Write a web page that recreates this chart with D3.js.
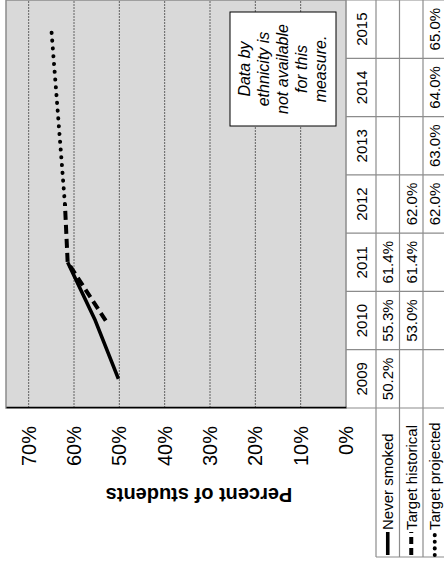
<!DOCTYPE html>
<html>
<head>
<meta charset="utf-8">
<script src="https://cdn.jsdelivr.net/npm/d3@7"></script>
<style>
  html, body { margin: 0; padding: 0; background: #fff; }
  svg { display: block; }
  text { font-family: Arial, "Liberation Sans", sans-serif; fill: #000; }
</style>
</head>
<body>
<script>
// ---- data ----
const years = ["2009", "2010", "2011", "2012", "2013", "2014", "2015"];
const neverSmoked = [50.2, 55.3, 61.4, null, null, null, null];
const targetHistorical = [null, 53.0, 61.4, 62.0, null, null, null];
const targetProjected = [null, null, null, 62.0, 63.0, 64.0, 65.0];
const seriesNames = ["Never smoked", "Target historical", "Target projected"];
const yTicks = [0, 10, 20, 30, 40, 50, 60, 70];
const noteLines = ["Data by", "ethnicity is", "not available", "for this", "measure."];

const W = 444, H = 562;          // page size
const CW = H, CH = W;            // chart is laid out landscape, then turned a quarter turn

const svg = d3.select("body").append("svg").attr("width", W).attr("height", H);
const g = svg.append("g").attr("transform", `translate(0,${H}) rotate(-90)`);

// plot frame (landscape coordinates)
const plotLeft = 154, plotRight = 562, plotTop = 6, plotBottom = 346;

const x = d3.scaleBand().domain(years).range([plotLeft, plotRight]).paddingInner(0).paddingOuter(0);
const y = d3.scaleLinear().domain([0, 75]).range([plotBottom, plotTop]);

// background
g.append("rect")
  .attr("x", plotLeft).attr("y", plotTop)
  .attr("width", plotRight - plotLeft).attr("height", plotBottom - plotTop)
  .attr("fill", "#d9d9d9").attr("stroke", "#8c8c8c").attr("stroke-width", 1.5);

// gridlines
g.append("g").selectAll("line")
  .data(yTicks.filter(d => d > 0))
  .join("line")
  .attr("x1", plotLeft).attr("x2", plotRight)
  .attr("y1", d => y(d)).attr("y2", d => y(d))
  .attr("stroke", "#555").attr("stroke-width", 0.9).attr("stroke-dasharray", "2,1");

// value axis
const yAxis = g.append("g")
  .attr("transform", `translate(${plotLeft},0)`)
  .call(d3.axisLeft(y).tickValues(yTicks).tickSize(0).tickPadding(18).tickFormat(d => d + "%"));
yAxis.select(".domain").attr("stroke", "#000").attr("stroke-width", 1.5);
yAxis.selectAll("text").style("font-size", "20px").style("font-family", "Arial, 'Liberation Sans', sans-serif");

// axis title
g.append("text")
  .attr("transform", `translate(67,199) rotate(-90)`)
  .attr("text-anchor", "middle").attr("dominant-baseline", "central")
  .style("font-size", "20px").style("font-weight", "bold")
  .text("Percent of students");

// lines
const cx = d => x(d) + x.bandwidth() / 2;
const lineGen = d3.line()
  .defined(d => d.v != null)
  .x(d => cx(d.year)).y(d => y(d.v));
const toPts = arr => years.map((yr, i) => ({ year: yr, v: arr[i] })).filter(d => d.v != null);

const styles = [
  { dash: null, cap: "butt", w: 3.6 },
  { dash: "9,5", cap: "butt", w: 4 },
  { dash: "0.1,7.7", cap: "round", w: 4 }
];
const allSeries = [neverSmoked, targetHistorical, targetProjected];

[2, 1, 0].forEach(i => {
  const p = g.append("path")
    .attr("d", lineGen(toPts(allSeries[i])))
    .attr("fill", "none").attr("stroke", "#000")
    .attr("stroke-width", styles[i].w)
    .attr("stroke-linecap", styles[i].cap)
    .attr("stroke-linejoin", "round");
  if (styles[i].dash) p.attr("stroke-dasharray", styles[i].dash);
});

// note box
const box = g.append("g");
box.append("rect")
  .attr("x", 436).attr("y", 230).attr("width", 114).attr("height", 106)
  .attr("fill", "#fff").attr("stroke", "#000").attr("stroke-width", 1);
box.selectAll("text").data(noteLines).join("text")
  .attr("x", 493).attr("y", (d, i) => 244 + i * 19)
  .attr("text-anchor", "middle").attr("dominant-baseline", "central")
  .style("font-size", "16px").style("font-style", "italic")
  .text(d => d);

// data table below the plot
const rowEdges = [346, 376, 399.5, 423, 446.5];
const tableColor = "#8c8c8c";
const table = g.append("g");

// horizontal rules of the table
table.selectAll("line.h").data(rowEdges.slice(1)).join("line")
  .attr("class", "h")
  .attr("x1", 5).attr("x2", plotRight)
  .attr("y1", d => d).attr("y2", d => d)
  .attr("stroke", tableColor).attr("stroke-width", 1.2);
// vertical rules between years
table.selectAll("line.v").data(years.concat(["end"])).join("line")
  .attr("class", "v")
  .attr("x1", (d, i) => plotLeft + i * x.bandwidth())
  .attr("x2", (d, i) => plotLeft + i * x.bandwidth())
  .attr("y1", plotBottom).attr("y2", rowEdges[4])
  .attr("stroke", tableColor).attr("stroke-width", 1.2);
// left edge of legend cells
table.append("line")
  .attr("x1", 5).attr("x2", 5).attr("y1", rowEdges[1]).attr("y2", rowEdges[4])
  .attr("stroke", tableColor).attr("stroke-width", 1.2);

// year labels
table.selectAll("text.yr").data(years).join("text")
  .attr("class", "yr")
  .attr("x", d => cx(d)).attr("y", (rowEdges[0] + rowEdges[1]) / 2)
  .attr("text-anchor", "middle").attr("dominant-baseline", "central")
  .style("font-size", "15px")
  .text(d => d);

// value cells
allSeries.forEach((arr, r) => {
  const yc = (rowEdges[r + 1] + rowEdges[r + 2]) / 2;
  table.selectAll(`text.val${r}`).data(toPts(arr)).join("text")
    .attr("class", `val${r}`)
    .attr("x", d => cx(d.year)).attr("y", yc)
    .attr("text-anchor", "middle").attr("dominant-baseline", "central")
    .style("font-size", "15px")
    .text(d => d.v.toFixed(1) + "%");

  // legend key + name
  table.append("line")
    .attr("x1", 7).attr("x2", 30).attr("y1", yc).attr("y2", yc)
    .attr("stroke", "#000").attr("stroke-width", styles[r].w)
    .attr("stroke-linecap", styles[r].cap)
    .attr("stroke-dasharray", r === 0 ? null : (r === 1 ? "7,4" : "0.1,6.5"));
  table.append("text")
    .attr("x", 32).attr("y", yc)
    .attr("dominant-baseline", "central")
    .style("font-size", "15px")
    .text(seriesNames[r]);
});
</script>
</body>
</html>
